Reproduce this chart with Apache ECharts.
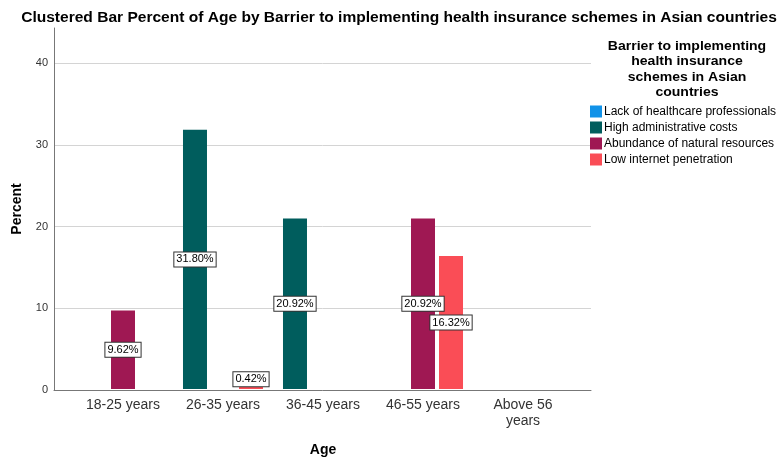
<!DOCTYPE html>
<html>
<head>
<meta charset="utf-8">
<script src="https://cdn.jsdelivr.net/npm/echarts@6/dist/echarts.min.js"></script>
<style>
  html, body { margin: 0; padding: 0; background: #fff; }
  #chart { width: 782px; height: 462px; }
</style>
</head>
<body>
<div id="chart"></div>
<script>
// Age groups on the category axis
const ageGroups = ['18-25 years', '26-35 years', '36-45 years', '46-55 years', 'Above 56\nyears'];

// Percent of respondents per barrier (null = no cases)
const lackOfProfessionals = [null, null, null, null, null];
const highAdminCosts = [null, 31.80, 20.92, null, null];
const abundanceOfResources = [9.62, null, null, 20.92, null];
const lowInternet = [null, 0.42, null, 16.32, null];

const seriesNames = [
  'Lack of healthcare professionals',
  'High administrative costs',
  'Abundance of natural resources',
  'Low internet penetration'
];
const seriesColors = ['#1192e8', '#005d5d', '#9f1853', '#fa4d56'];

const yTicks = [0, 10, 20, 30, 40];
const yMax = 44.3;

const FONT = '"Liberation Sans", Arial, sans-serif';

const valueLabel = {
  show: true,
  position: 'inside',
  formatter: p => p.value.toFixed(2) + '%',
  color: '#000',
  fontFamily: FONT,
  fontSize: 11,
  backgroundColor: '#fff',
  borderColor: '#333',
  borderWidth: 1,
  padding: [2, 2, 1, 2]
};

// Very short bars: lift the label so the box stays above the baseline
function toItems(values) {
  return values.map(v => {
    if (v == null) return null;
    const item = { value: v };
    if (v < 2) item.label = { offset: [0, -8] };
    return item;
  });
}

function barSeries(idx, values) {
  return {
    name: seriesNames[idx],
    type: 'bar',
    xAxisIndex: 1,
    yAxisIndex: 1,
    barWidth: 24,
    barGap: '16.7%',
    itemStyle: { color: seriesColors[idx] },
    label: valueLabel,
    data: toItems(values)
  };
}

const chart = echarts.init(document.getElementById('chart'), null, { renderer: 'canvas' });

chart.setOption({
  animation: false,
  backgroundColor: '#fff',
  legend: {
    orient: 'vertical',
    left: 590,
    top: 105.5,
    padding: 0,
    itemWidth: 12,
    itemHeight: 12,
    itemGap: 4,
    icon: 'rect',
    data: seriesNames,
    textStyle: { fontFamily: FONT, fontSize: 12, color: '#000', padding: [0, 0, 0, -3] }
  },
  graphic: [
    {
      type: 'text',
      x: 399,
      y: 11,
      scaleX: 1.11,
      style: {
        text: 'Clustered Bar Percent of Age by Barrier to implementing health insurance schemes in Asian countries',
        font: 'bold 14px ' + FONT,
        fill: '#000',
        textAlign: 'center',
        textVerticalAlign: 'top'
      }
    },
    {
      type: 'text',
      x: 687,
      y: 38.5,
      scaleX: 1.08,
      style: {
        text: 'Barrier to implementing\nhealth insurance\nschemes in Asian\ncountries',
        font: 'bold 13px ' + FONT,
        fill: '#000',
        textAlign: 'center',
        textVerticalAlign: 'top',
        lineHeight: 15.5
      }
    }
  ],
  grid: [
    // outer frame: y axis, gridlines and baseline
    { left: 54, right: 782 - 591, top: 28, bottom: 72, containLabel: false },
    // inner band where the clusters sit
    { left: 73, right: 782 - 573, top: 28, bottom: 72, containLabel: false }
  ],
  xAxis: [
    {
      type: 'category',
      gridIndex: 0,
      data: ageGroups,
      axisLine: { show: true, lineStyle: { color: '#777', width: 1 } },
      axisTick: { show: false },
      axisLabel: { show: false },
      splitLine: { show: false }
    },
    {
      type: 'category',
      gridIndex: 1,
      data: ageGroups,
      axisLine: { show: false },
      axisTick: { show: false },
      axisLabel: {
        fontFamily: FONT, fontSize: 14, color: '#333', margin: 8, lineHeight: 16, interval: 0
      },
      name: 'Age',
      nameLocation: 'middle',
      nameGap: 54,
      nameTextStyle: { fontFamily: FONT, fontSize: 14, fontWeight: 'bold', color: '#000' },
      splitLine: { show: false }
    }
  ],
  yAxis: [
    {
      type: 'value',
      gridIndex: 0,
      min: 0,
      max: yMax,
      interval: 10,
      axisLine: { show: true, lineStyle: { color: '#777', width: 1 } },
      axisTick: { show: false },
      axisLabel: {
        fontFamily: FONT, fontSize: 11, color: '#333', margin: 6,
        formatter: v => (yTicks.indexOf(v) >= 0 ? String(v) : '')
      },
      splitLine: {
        show: true,
        lineStyle: {
          color: yTicks.map(() => '#d4d4d4').concat(['rgba(0,0,0,0)']),
          width: 1
        }
      },
      name: 'Percent',
      nameLocation: 'middle',
      nameGap: 30,
      nameTextStyle: { fontFamily: FONT, fontSize: 14, fontWeight: 'bold', color: '#000' }
    },
    {
      type: 'value',
      gridIndex: 1,
      min: 0,
      max: yMax,
      interval: 10,
      show: false
    }
  ],
  series: [
    {
      name: seriesNames[0],
      type: 'bar',
      xAxisIndex: 0,
      yAxisIndex: 0,
      barWidth: 24,
      itemStyle: { color: seriesColors[0] },
      label: valueLabel,
      data: toItems(lackOfProfessionals)
    },
    barSeries(1, highAdminCosts),
    barSeries(2, abundanceOfResources),
    barSeries(3, lowInternet)
  ]
});
</script>
</body>
</html>
